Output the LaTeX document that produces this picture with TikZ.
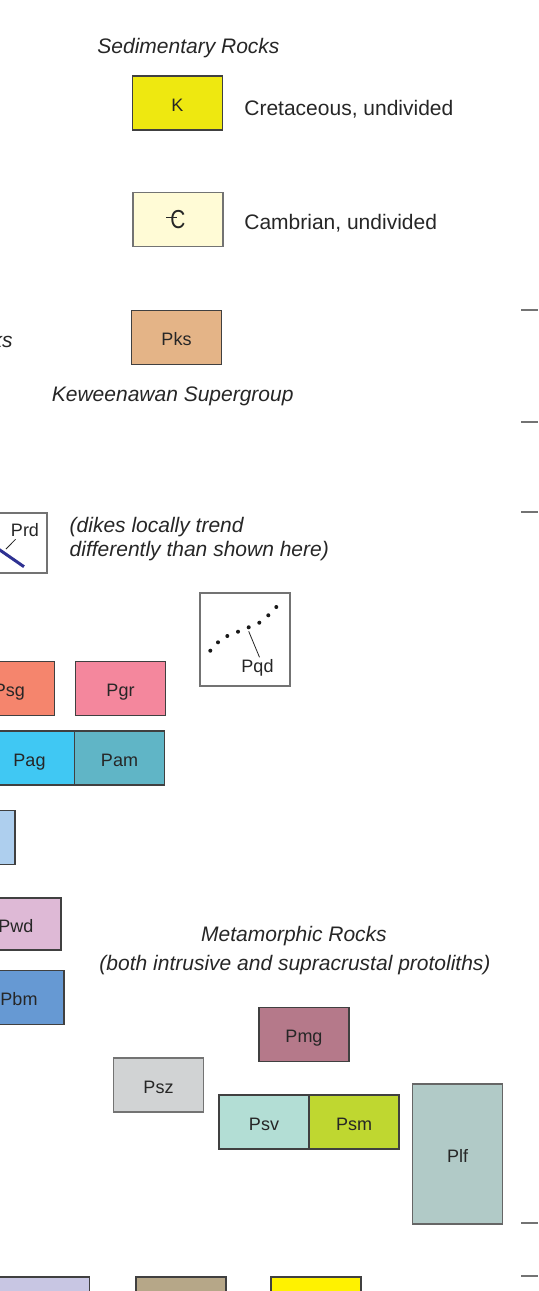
\documentclass[tikz,border=0pt]{standalone}
\usepackage{fontspec}
\setmainfont{Liberation Sans}
\usepackage{graphicx}
\usepackage{tikz}
\usetikzlibrary{positioning}
\definecolor{cK}{HTML}{EEE810}
\definecolor{cCm}{HTML}{FFFBD6}
\definecolor{cPks}{HTML}{E4B487}
\definecolor{cPsg}{HTML}{F5856D}
\definecolor{cPgr}{HTML}{F4879D}
\definecolor{cPag}{HTML}{40C8F3}
\definecolor{cPam}{HTML}{60B5C6}
\definecolor{cPbl}{HTML}{AECFEE}
\definecolor{cPwd}{HTML}{DEB9D6}
\definecolor{cPbm}{HTML}{6699D3}
\definecolor{cPmg}{HTML}{B5798A}
\definecolor{cPsz}{HTML}{D1D3D4}
\definecolor{cPsv}{HTML}{B3DED5}
\definecolor{cPsm}{HTML}{BFD730}
\definecolor{cPlf}{HTML}{B1CAC7}
\definecolor{cLav}{HTML}{C8C6E3}
\definecolor{cTan}{HTML}{B6A788}
\definecolor{cYel}{HTML}{FFF200}
\definecolor{cDike}{HTML}{2E3192}
\newcommand{\cambsym}{\makebox[0pt][l]{\kern-2pt\rule[5.5pt]{5.25pt}{0.45pt}}\scalebox{0.8}[1]{\fontsize{13}{13}\selectfont C}}

\begin{document}
\begin{tikzpicture}[x=0.5pt, y=-0.5pt,
    unit/.style={draw=black!75, line width=0.6pt, minimum width=45pt, minimum height=27pt,
        inner sep=0pt, outer sep=0pt, text height=8pt, text depth=0pt,
        font=\fontsize{9}{10.8}\selectfont, text=black!85},
    lbl/.style={anchor=base, inner sep=1pt, font=\fontsize{9}{10.8}\selectfont, text=black!85},
    desc/.style={anchor=base west, inner sep=0pt, font=\fontsize{10.5}{12.6}\selectfont, text=black!85},
    head/.style={anchor=base, inner sep=0pt, font=\fontsize{10.5}{12.6}\selectfont\itshape, text=black!85},
    leader/.style={draw=black!85, line width=0.4pt},
    dike/.style={draw=cDike, line width=1.5pt},
    tick/.style={draw=black!55, line width=0.8pt}
]
    \useasboundingbox (0,0) rectangle (538,1291);
    \clip (0,0) rectangle (538,1291);

    \node[head] (sedim) at (188.5,53) {Sedimentary Rocks};
    \node[unit, fill=cK] (K) at (177.5,103) {K};
    \node[desc] (Kdesc) at (244,115) {Cretaceous, undivided};
    \node[unit, fill=cCm, draw=black!55, text height=9.3pt] (Cm) at (178,219.5) {\cambsym};
    \node[desc] (Cmdesc) at (244,229) {Cambrian, undivided};

    \node[head, anchor=base east] (rocks) at (13,347.7) {ks};
    \node[unit, fill=cPks] (Pks) at (176.5,337.5) {Pks};
    \node[head, anchor=base west] (kew) at (51.5,401) {Keweenawan Supergroup};

    \node[unit, fill=white, draw=black!55, minimum height=30pt] (prdbox) at (2,543) {};
    \draw[dike] (-30,529.4) -- (24,566.7);
    \coordinate (prdtip) at (6,549);
    \node[lbl] (prd) at (25,536.7) {Prd};
    \draw[leader] ([xshift=3.5pt]prd.south west) -- (prdtip);
    \node[head, anchor=base west] (dikes1) at (69.3,532) {(dikes locally trend};
    \node[head, anchor=base west] (dikes2) at (69.3,556) {differently than shown here)};

    \node[unit, fill=white, draw=black!55, minimum height=46.5pt] (pqdbox) at (245,639.5) {};
    \foreach \x/\y [count=\i] in {210.3/650.7, 218/642.3, 227.3/636, 238/631.7,
        248.7/627.3, 259.3/622.7, 268.3/615.3, 276.3/607} {
        \coordinate (d\i) at (\x,\y);
        \fill[black!90] (d\i) circle[radius=1pt];
    }
    \node[lbl] (pqd) at (257.5,672.7) {Pqd};
    \draw[leader] ([yshift=-2pt]d5) -- ([xshift=1pt]pqd.north);

    \node[unit, fill=cPsg] (Psg) at (9.5,688.5) {Psg};
    \node[unit, fill=cPgr] (Pgr) at (120.5,688.5) {Pgr};
    \node[unit, fill=cPag] (Pag) at (29.5,758) {Pag};
    \node[unit, fill=cPam, right=0pt of Pag] (Pam) {Pam};
    \node[unit, fill=cPbl] (Pbl) at (-30,837.5) {};
    \node[unit, fill=cPwd, minimum height=26pt] (Pwd) at (16,924) {Pwd};
    \node[unit, fill=cPbm] (Pbm) at (19,997.5) {Pbm};

    \node[head] (meta) at (294,941.7) {Metamorphic Rocks};
    \node[head] (prot) at (295,970.7) {(both intrusive and supracrustal protoliths)};
    \node[unit, fill=cPmg] (Pmg) at (304,1034.5) {Pmg};
    \node[unit, fill=cPsz, draw=black!55] (Psz) at (158.5,1085) {Psz};
    \node[unit, fill=cPsv] (Psv) at (264,1122) {Psv};
    \node[unit, fill=cPsm, right=0pt of Psv] (Psm) {Psm};
    \node[unit, fill=cPlf, draw=black!60, minimum height=70pt] (Plf) at (457.5,1154) {Plf};

    \node[unit, fill=cLav] (Plav) at (44.5,1304) {};
    \node[unit, fill=cTan] (Ptan) at (181,1304) {};
    \node[unit, fill=cYel] (Pyel) at (316,1304) {};

    \foreach \y in {310,422,512,1223,1276}
        \draw[tick] (521,\y) -- (538,\y);
\end{tikzpicture}
\end{document}
